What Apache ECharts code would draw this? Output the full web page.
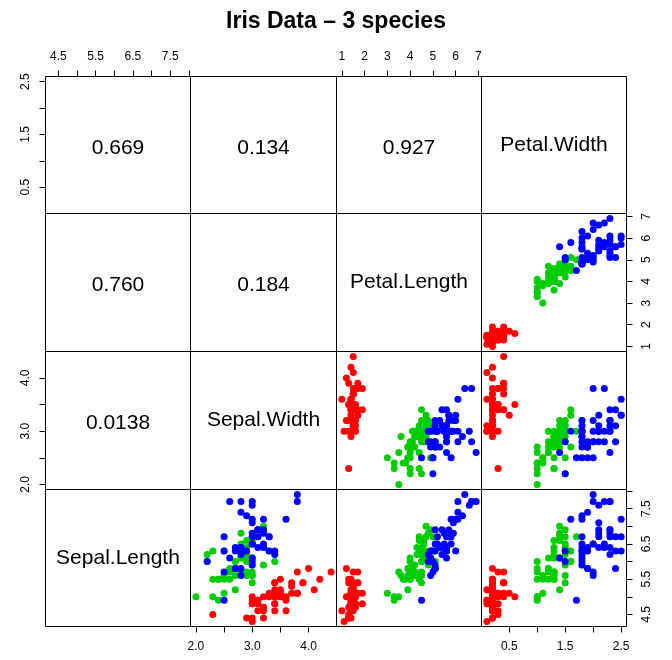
<!DOCTYPE html>
<html>
<head>
<meta charset="utf-8">
<title>Iris Data - 3 species</title>
<script src="https://cdn.jsdelivr.net/npm/echarts@6/dist/echarts.min.js"></script>
<style>
  html, body { margin: 0; padding: 0; background: #fff; }
  #main { width: 672px; height: 660px; }
</style>
</head>
<body>
<div id="main"></div>
<script>
// iris measurements, rows 1-50 setosa, 51-100 versicolor, 101-150 virginica
var sepalLength = [
  5.1,4.9,4.7,4.6,5.0,5.4,4.6,5.0,4.4,4.9,5.4,4.8,4.8,4.3,5.8,5.7,5.4,5.1,5.7,5.1,5.4,5.1,4.6,5.1,4.8,
  5.0,5.0,5.2,5.2,4.7,4.8,5.4,5.2,5.5,4.9,5.0,5.5,4.9,4.4,5.1,5.0,4.5,4.4,5.0,5.1,4.8,5.1,4.6,5.3,5.0,
  7.0,6.4,6.9,5.5,6.5,5.7,6.3,4.9,6.6,5.2,5.0,5.9,6.0,6.1,5.6,6.7,5.6,5.8,6.2,5.6,5.9,6.1,6.3,6.1,6.4,
  6.6,6.8,6.7,6.0,5.7,5.5,5.5,5.8,6.0,5.4,6.0,6.7,6.3,5.6,5.5,5.5,6.1,5.8,5.0,5.6,5.7,5.7,6.2,5.1,5.7,
  6.3,5.8,7.1,6.3,6.5,7.6,4.9,7.3,6.7,7.2,6.5,6.4,6.8,5.7,5.8,6.4,6.5,7.7,7.7,6.0,6.9,5.6,7.7,6.3,6.7,
  7.2,6.2,6.1,6.4,7.2,7.4,7.9,6.4,6.3,6.1,7.7,6.3,6.4,6.0,6.9,6.7,6.9,5.8,6.8,6.7,6.7,6.3,6.5,6.2,5.9
];
var sepalWidth = [
  3.5,3.0,3.2,3.1,3.6,3.9,3.4,3.4,2.9,3.1,3.7,3.4,3.0,3.0,4.0,4.4,3.9,3.5,3.8,3.8,3.4,3.7,3.6,3.3,3.4,
  3.0,3.4,3.5,3.4,3.2,3.1,3.4,4.1,4.2,3.1,3.2,3.5,3.6,3.0,3.4,3.5,2.3,3.2,3.5,3.8,3.0,3.8,3.2,3.7,3.3,
  3.2,3.2,3.1,2.3,2.8,2.8,3.3,2.4,2.9,2.7,2.0,3.0,2.2,2.9,2.9,3.1,3.0,2.7,2.2,2.5,3.2,2.8,2.5,2.8,2.9,
  3.0,2.8,3.0,2.9,2.6,2.4,2.4,2.7,2.7,3.0,3.4,3.1,2.3,3.0,2.5,2.6,3.0,2.6,2.3,2.7,3.0,2.9,2.9,2.5,2.8,
  3.3,2.7,3.0,2.9,3.0,3.0,2.5,2.9,2.5,3.6,3.2,2.7,3.0,2.5,2.8,3.2,3.0,3.8,2.6,2.2,3.2,2.8,2.8,2.7,3.3,
  3.2,2.8,3.0,2.8,3.0,2.8,3.8,2.8,2.8,2.6,3.0,3.4,3.1,3.0,3.1,3.1,3.1,2.7,3.2,3.3,3.0,2.5,3.0,3.4,3.0
];
var petalLength = [
  1.4,1.4,1.3,1.5,1.4,1.7,1.4,1.5,1.4,1.5,1.5,1.6,1.4,1.1,1.2,1.5,1.3,1.4,1.7,1.5,1.7,1.5,1.0,1.7,1.9,
  1.6,1.6,1.5,1.4,1.6,1.6,1.5,1.5,1.4,1.5,1.2,1.3,1.4,1.3,1.5,1.3,1.3,1.3,1.6,1.9,1.4,1.6,1.4,1.5,1.4,
  4.7,4.5,4.9,4.0,4.6,4.5,4.7,3.3,4.6,3.9,3.5,4.2,4.0,4.7,3.6,4.4,4.5,4.1,4.5,3.9,4.8,4.0,4.9,4.7,4.3,
  4.4,4.8,5.0,4.5,3.5,3.8,3.7,3.9,5.1,4.5,4.5,4.7,4.4,4.1,4.0,4.4,4.6,4.0,3.3,4.2,4.2,4.2,4.3,3.0,4.1,
  6.0,5.1,5.9,5.6,5.8,6.6,4.5,6.3,5.8,6.1,5.1,5.3,5.5,5.0,5.1,5.3,5.5,6.7,6.9,5.0,5.7,4.9,6.7,4.9,5.7,
  6.0,4.8,4.9,5.6,5.8,6.1,6.4,5.6,5.1,5.6,6.1,5.6,5.5,4.8,5.4,5.6,5.1,5.1,5.9,5.7,5.2,5.0,5.2,5.4,5.1
];
var petalWidth = [
  0.2,0.2,0.2,0.2,0.2,0.4,0.3,0.2,0.2,0.1,0.2,0.2,0.1,0.1,0.2,0.4,0.4,0.3,0.3,0.3,0.2,0.4,0.2,0.5,0.2,
  0.2,0.4,0.2,0.2,0.2,0.2,0.4,0.1,0.2,0.2,0.2,0.2,0.1,0.2,0.2,0.3,0.3,0.2,0.6,0.4,0.3,0.2,0.2,0.2,0.2,
  1.4,1.5,1.5,1.3,1.5,1.3,1.6,1.0,1.3,1.4,1.0,1.5,1.0,1.4,1.3,1.4,1.5,1.0,1.5,1.1,1.8,1.3,1.5,1.2,1.3,
  1.4,1.4,1.7,1.5,1.0,1.1,1.0,1.2,1.6,1.5,1.6,1.5,1.3,1.3,1.3,1.2,1.4,1.2,1.0,1.3,1.2,1.3,1.3,1.1,1.3,
  2.5,1.9,2.1,1.8,2.2,2.1,1.7,1.8,1.8,2.5,2.0,1.9,2.1,2.0,2.4,2.3,1.8,2.2,2.3,1.5,2.3,2.0,2.0,1.8,2.1,
  1.8,1.8,1.8,2.1,1.6,1.9,2.0,2.2,1.5,1.4,2.3,2.4,1.8,1.8,2.1,2.4,2.3,1.9,2.3,2.5,2.3,1.9,2.0,2.3,1.8
];

var varNames = ['Sepal.Length', 'Sepal.Width', 'Petal.Length', 'Petal.Width'];
var speciesNames = ['setosa', 'versicolor', 'virginica'];
var speciesSize = 50;

// tick marks and labelled ticks for each variable
var tickValues = [
  [4.5, 5, 5.5, 6, 6.5, 7, 7.5, 8],
  [2, 2.5, 3, 3.5, 4],
  [1, 2, 3, 4, 5, 6, 7],
  [0.5, 1, 1.5, 2, 2.5]
];
var tickLabels = [
  [4.5, 5.5, 6.5, 7.5],
  [2, 3, 4],
  [1, 2, 3, 4, 5, 6, 7],
  [0.5, 1.5, 2.5]
];
var labelDigits = [1, 1, 0, 1];

var columns = [sepalLength, sepalWidth, petalLength, petalWidth];
var colors = ['#ff0000', '#00cd00', '#0000ff'];
var font = '"Liberation Sans", Arial, Helvetica, sans-serif';

// panel edges (pixel)
var colEdges = [45.5, 190.5, 336.5, 481.5, 626.5];
var rowEdges = [76.5, 213.5, 351.5, 489.5, 626.5];

function range(v) {
  var lo = Math.min.apply(null, v), hi = Math.max.apply(null, v);
  var pad = (hi - lo) * 0.04;
  return [lo - pad, hi + pad];
}

// squared correlation, 3 significant digits like R's format()
function rsq(a, b) {
  var n = a.length, ma = 0, mb = 0;
  for (var k = 0; k < n; k++) { ma += a[k]; mb += b[k]; }
  ma /= n; mb /= n;
  var sab = 0, saa = 0, sbb = 0;
  for (var k = 0; k < n; k++) {
    sab += (a[k] - ma) * (b[k] - mb);
    saa += (a[k] - ma) * (a[k] - ma);
    sbb += (b[k] - mb) * (b[k] - mb);
  }
  var r = sab / Math.sqrt(saa * sbb);
  return (r * r).toPrecision(3);
}

function makeAxis(dim, v, idx, show, pos) {
  var rg = range(columns[v]);
  return {
    type: 'value',
    gridIndex: idx,
    min: rg[0],
    max: rg[1],
    position: pos,
    axisLine: { show: false },
    splitLine: { show: false },
    axisTick: {
      show: show,
      length: 6,
      lineStyle: { color: '#000', width: 1 },
      customValues: tickValues[v]
    },
    axisLabel: {
      show: show,
      customValues: tickLabels[v],
      color: '#000',
      fontSize: 12,
      fontFamily: font,
      margin: 14,
      rotate: dim === 'y' ? 90 : 0,
      formatter: function (val) { return Number(val).toFixed(labelDigits[v]); }
    }
  };
}

var grids = [], xAxes = [], yAxes = [], series = [], texts = [];

for (var i = 0; i < 4; i++) {
  for (var j = 0; j < 4; j++) {
    var idx = grids.length;
    var xv = j, yv = 3 - i;
    grids.push({
      left: colEdges[j],
      top: rowEdges[i],
      width: colEdges[j + 1] - colEdges[j],
      height: rowEdges[i + 1] - rowEdges[i],
      show: true,
      borderColor: '#000',
      borderWidth: 1,
      backgroundColor: 'transparent'
    });
    var xTop = i === 0 && j % 2 === 0, xBottom = i === 3 && j % 2 === 1;
    var yLeft = j === 0 && i % 2 === 0, yRight = j === 3 && i % 2 === 1;
    xAxes.push(makeAxis('x', xv, idx, xTop || xBottom, xTop ? 'top' : 'bottom'));
    yAxes.push(makeAxis('y', yv, idx, yLeft || yRight, yRight ? 'right' : 'left'));

    var cx = (colEdges[j] + colEdges[j + 1]) / 2;
    var cy = (rowEdges[i] + rowEdges[i + 1]) / 2;

    if (i + j > 3) {
      for (var s = 0; s < speciesNames.length; s++) {
        var pts = [];
        for (var k = s * speciesSize; k < (s + 1) * speciesSize; k++) {
          pts.push([columns[xv][k], columns[yv][k]]);
        }
        series.push({
          type: 'scatter',
          name: speciesNames[s],
          xAxisIndex: idx,
          yAxisIndex: idx,
          data: pts,
          symbol: 'circle',
          symbolSize: 7,
          itemStyle: { color: colors[s], opacity: 1 },
          silent: true,
          animation: false
        });
      }
    } else {
      var isName = i + j === 3;
      var label = isName ? varNames[xv] : rsq(columns[xv], columns[yv]);
      texts.push({
        type: 'text',
        x: cx,
        y: cy + (isName ? 0 : 3),
        style: {
          text: label,
          x: 0, y: 0,
          align: 'center',
          verticalAlign: 'middle',
          fill: '#000',
          font: '21px ' + font
        }
      });
    }
  }
}

var myChart = echarts.init(document.getElementById('main'), null, { renderer: 'canvas' });
var option = {
  backgroundColor: '#fff',
  animation: false,
  title: {
    text: 'Iris Data \u2013 3 species',
    left: 'center',
    top: 5,
    textStyle: { fontFamily: font, fontSize: 23, fontWeight: 'bold', color: '#000' }
  },
  grid: grids,
  xAxis: xAxes,
  yAxis: yAxes,
  series: series,
  graphic: texts
};
myChart.setOption(option);
</script>
</body>
</html>
